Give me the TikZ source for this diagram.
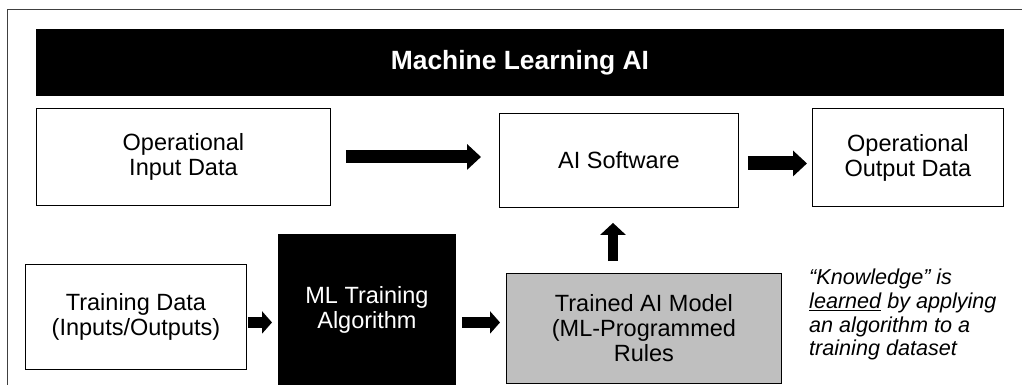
\documentclass[tikz,border=0pt]{standalone}
\usepackage{fontspec}
\setmainfont{Liberation Sans}
\usetikzlibrary{arrows.meta}
\definecolor{modelgray}{HTML}{BFBFBF}
\definecolor{framegray}{HTML}{404040}
\tikzset{
  box/.style={draw=black, line width=0.9pt, fill=white, anchor=north west, inner sep=0pt, align=center,
    font=\fontsize{23.5}{25}\selectfont},
  darkbox/.style={box, fill=black, text=white},
  graybox/.style={box, fill=modelgray},
  fatarrow/.style={line width=13pt, line cap=butt, -{Triangle[length=14pt,width=25pt]}},
  smallarrow/.style={line width=11pt, line cap=butt, -{Triangle[length=10pt,width=22pt]}},
}
\begin{document}
\begin{tikzpicture}[x=1pt,y=-1pt]
\useasboundingbox (0,0) rectangle (1022,385);
% outer frame (clipped at right and bottom)
\draw[framegray, line width=1pt] (7,385) -- (7,10) -- (1022,10);
% title bar
\node[darkbox, minimum width=967pt, minimum height=66pt, font=\fontsize{26.4}{28}\selectfont\bfseries] (title) at (36,29) {Machine Learning AI};
% top row
\node[box, minimum width=294pt, minimum height=97pt] (in) at (36,108) {Operational\\Input Data};
\node[box, minimum width=239pt, minimum height=94pt] (sw) at (499,113) {AI Software};
\node[box, minimum width=191pt, minimum height=98pt] (out) at (812,108) {Operational\\Output Data};
% bottom row
\node[box, minimum width=221pt, minimum height=105pt] (td) at (25,264) {Training Data\\(Inputs/Outputs)};
\node[darkbox, minimum width=177pt, minimum height=150pt] (ml) at (278,234) {ML Training\\Algorithm};
\node[graybox, minimum width=275pt, minimum height=110pt] (tm) at (506,273) {Trained AI Model\\(ML-Programmed\\Rules};
% note
\node[anchor=north west, inner sep=0pt, align=left, font=\fontsize{21.6}{23.6}\selectfont\itshape] (note) at (809,269)
  {“Knowledge” is\\\underline{learned} by applying\\an algorithm to a\\training dataset};
% arrows
\draw[fatarrow, shorten <=15pt, shorten >=18pt] (in.east) -- (in.east -| sw.west);
\draw[fatarrow, line width=14pt, shorten <=9pt, shorten >=5pt] ([yshift=-3pt]sw.east) -- ([yshift=-3pt]sw.east -| out.west);
\draw[smallarrow, shorten <=1pt, shorten >=6pt] ([yshift=-5.5pt]td.east) -- ([yshift=-5.5pt]td.east -| ml.west);
\draw[smallarrow, shorten <=6pt, shorten >=6pt] ([yshift=-13pt]ml.east) -- ([yshift=-13pt]ml.east -| tm.west);
\coordinate (upx) at (613,0);
\draw[fatarrow, line width=10pt, -{Triangle[length=12pt,width=25pt]}, shorten <=12pt, shorten >=15pt] (upx |- tm.north) -- (upx |- sw.south);
\end{tikzpicture}
\end{document}
